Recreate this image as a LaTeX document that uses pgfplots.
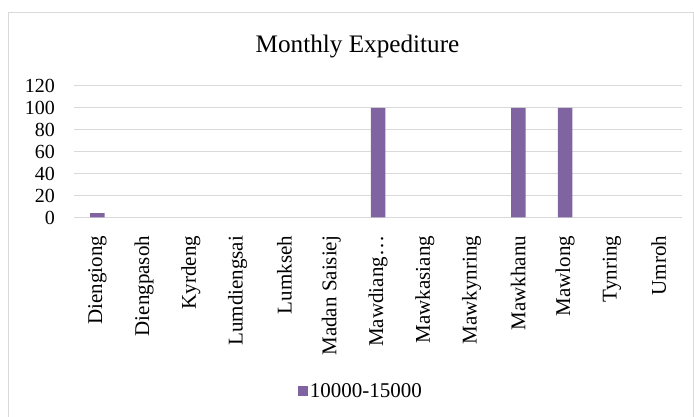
\documentclass[border=0pt]{standalone}
\usepackage{fontspec}
\setmainfont{Liberation Serif}
\usepackage{pgfplots}
\pgfplotsset{compat=1.18}
\definecolor{barc}{HTML}{8064A2}
\definecolor{gridc}{HTML}{D9D9D9}
\begin{document}
\begin{tikzpicture}
\useasboundingbox (0pt,0pt) rectangle (694pt,417pt);
\fill[white] (0pt,0pt) rectangle (694pt,417pt);
\draw[gridc, line width=1pt] (8.5pt,-1pt) -- (8.5pt,404pt) -- (693pt,404pt) -- (693pt,-1pt);
\node[anchor=base, font=\fontsize{25.2}{25.2}\selectfont] at (357.5pt,364pt) {Monthly Expediture};
\begin{axis}[
  at={(74pt,199.5pt)}, anchor=south west,
  scale only axis, width=608pt, height=131.5pt,
  ymin=0, ymax=120, ytick={0,20,...,120},
  xmin=-0.5, xmax=12.5, xtick={0,...,12},
  xticklabels={Diengiong,Diengpasoh,Kyrdeng,Lumdiengsai,Lumkseh,Madan Saisiej,Mawdiang…,Mawkasiang,Mawkynring,Mawkhanu,Mawlong,Tynring,Umroh},
  axis line style={draw=none},
  major tick style={draw=none},
  ymajorgrids, grid style={gridc, line width=1pt},
  ybar, bar width=14.5pt,
  /pgf/number format/assume math mode=true,
  yticklabel style={font=\fontsize{20}{20}\selectfont, inner sep=0pt},
  yticklabel shift=19pt,
  xticklabel style={font=\fontsize{21}{21}\selectfont, rotate=90, anchor=east, inner sep=0pt},
  xticklabel shift=14pt,
  legend style={at={(0.472,-1.319)}, anchor=center, draw=none, fill=none,
    font=\fontsize{21}{21}\selectfont, inner sep=0pt},
]
\addplot[fill=barc, draw=none,
  legend image code/.code={\fill[barc] (0pt,-5pt) rectangle (10pt,5pt);}]
  coordinates {(0,4) (6,100) (9,100) (10,100)};
\addlegendentry{10000-15000}
\end{axis}
\end{tikzpicture}
\end{document}
